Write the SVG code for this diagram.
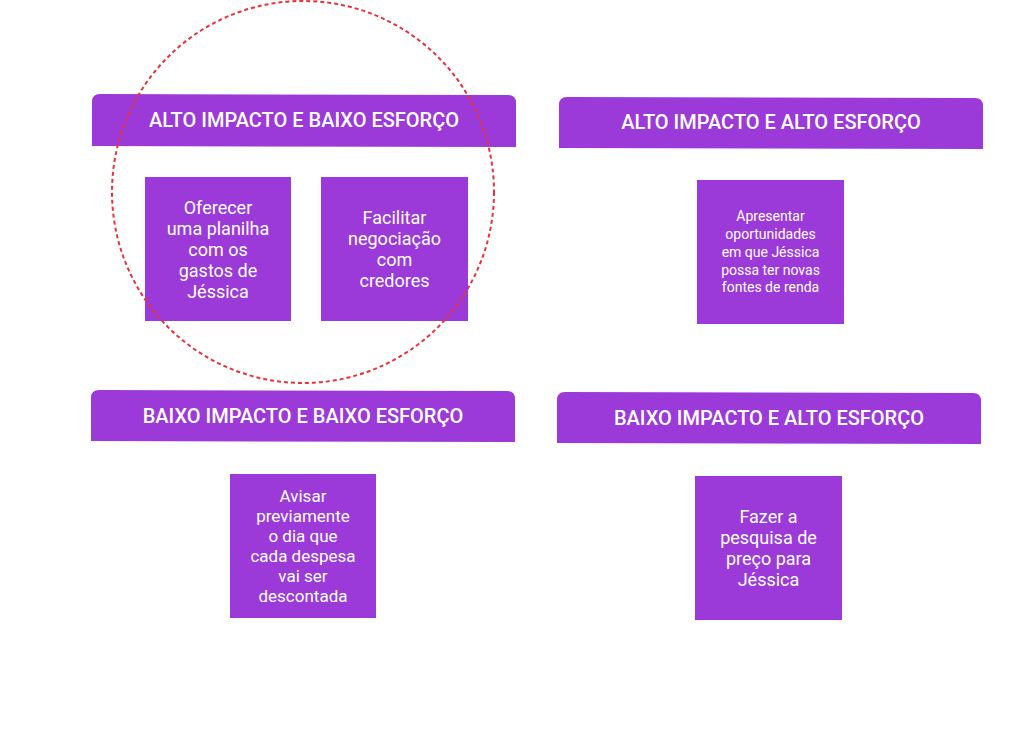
<svg xmlns="http://www.w3.org/2000/svg" width="1026" height="735" viewBox="0 0 1026 735">
<style>
.hdr{fill:#9b3ad9}
.card{fill:#9b3ad9}
.ht{font-family:Roboto,"Liberation Sans",sans-serif;font-weight:500;font-size:20px;fill:#ffffff;text-anchor:middle}
.ct{font-family:Roboto,"Liberation Sans",sans-serif;font-size:18px;fill:#ffffff;text-anchor:middle}
.cs{font-family:Roboto,"Liberation Sans",sans-serif;font-size:14px;fill:#ffffff;text-anchor:middle}
.ring{fill:none;stroke:#e8323c;stroke-width:2;stroke-dasharray:4 3}
</style>
<rect width="1026" height="735" fill="#ffffff"/>
<g id="header-alto-baixo">
<path class="hdr" d="M92,146 L92,102 Q92,94 100,94 L508,95 Q516,95 516,103 L516,147 Z"/>
<text class="ht" x="304" y="127">ALTO IMPACTO E BAIXO ESFORÇO</text>
</g>
<g id="header-alto-alto">
<path class="hdr" d="M559,148 L559,105 Q559,97 567,97 L975,98 Q983,98 983,106 L983,149 Z"/>
<text class="ht" x="771" y="129">ALTO IMPACTO E ALTO ESFORÇO</text>
</g>
<g id="header-baixo-baixo">
<path class="hdr" d="M91,441 L91,398 Q91,390 99,390 L507,391 Q515,391 515,399 L515,442 Z"/>
<text class="ht" x="303" y="423">BAIXO IMPACTO E BAIXO ESFORÇO</text>
</g>
<g id="header-baixo-alto">
<path class="hdr" d="M557,443 L557,400 Q557,392 565,392 L973,393 Q981,393 981,401 L981,444 Z"/>
<text class="ht" x="769" y="425">BAIXO IMPACTO E ALTO ESFORÇO</text>
</g>
<g id="card-planilha">
<rect class="card" x="145" y="177" width="146" height="144"/>
<text class="ct" x="218"><tspan x="218" y="214">Oferecer</tspan><tspan x="218" y="235">uma planilha</tspan><tspan x="218" y="256">com os</tspan><tspan x="218" y="277">gastos de</tspan><tspan x="218" y="298">Jéssica</tspan></text>
</g>
<g id="card-credores">
<rect class="card" x="321" y="177" width="147" height="144"/>
<text class="ct" x="394.5"><tspan x="394.5" y="224">Facilitar</tspan><tspan x="394.5" y="245">negociação</tspan><tspan x="394.5" y="266">com</tspan><tspan x="394.5" y="287">credores</tspan></text>
</g>
<g id="card-renda">
<rect class="card" x="697" y="180" width="147" height="144"/>
<text class="cs" x="770.5"><tspan x="770.5" y="221">Apresentar</tspan><tspan x="770.5" y="239">oportunidades</tspan><tspan x="770.5" y="256.5">em que Jéssica</tspan><tspan x="770.5" y="274.5">possa ter novas</tspan><tspan x="770.5" y="292">fontes de renda</tspan></text>
</g>
<g id="card-avisar">
<rect class="card" x="230" y="474" width="146" height="144"/>
<text class="ct" x="303" style="font-size:17px"><tspan x="303" y="502">Avisar</tspan><tspan x="303" y="522">previamente</tspan><tspan x="303" y="542">o dia que</tspan><tspan x="303" y="562">cada despesa</tspan><tspan x="303" y="582">vai ser</tspan><tspan x="303" y="602">descontada</tspan></text>
</g>
<g id="card-pesquisa">
<rect class="card" x="695" y="476" width="147" height="144"/>
<text class="ct" x="768.5"><tspan x="768.5" y="523">Fazer a</tspan><tspan x="768.5" y="544">pesquisa de</tspan><tspan x="768.5" y="565">preço para</tspan><tspan x="768.5" y="586">Jéssica</tspan></text>
</g>
<g id="connectors"></g>
<g id="highlight-circle">
<circle class="ring" cx="303" cy="192" r="191"/>
</g>
</svg>
